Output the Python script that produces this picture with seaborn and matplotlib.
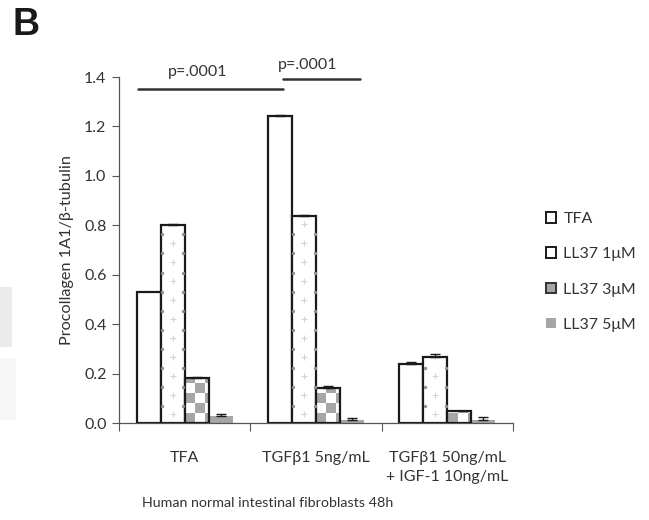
import matplotlib
matplotlib.use("Agg")
import matplotlib.pyplot as plt
import numpy as np
import pandas as pd
import seaborn as sns
from matplotlib.patches import Rectangle, Patch

sns.set_theme(style="white")
plt.rcParams["font.family"] = ["Lato", "DejaVu Sans"]

groups = ["TFA", "TGFβ1 5ng/mL", "TGFβ1 50ng/mL\n+ IGF-1 10ng/mL"]
treatments = ["TFA", "LL37 1μM", "LL37 3μM", "LL37 5μM"]
tfa = [0.53, 1.244, 0.237]
ll37_1 = [0.801, 0.836, 0.267]
ll37_3 = [0.183, 0.143, 0.049]
ll37_5 = [0.028, 0.012, 0.012]
err_tfa = [0.0, 0.004, 0.011]
err_1 = [0.004, 0.004, 0.011]
err_3 = [0.005, 0.005, 0.0]
err_5 = [0.007, 0.007, 0.011]

series = [tfa, ll37_1, ll37_3, ll37_5]
errors = [err_tfa, err_1, err_3, err_5]

df = pd.DataFrame({
    "group": groups * 4,
    "treatment": [t for t in treatments for _ in groups],
    "value": [v for s in series for v in s],
})

FS = 11.5
TXT = "#333333"

fig = plt.figure(figsize=(6.49, 5.2), dpi=100)
ax = fig.add_axes([0.1834, 0.1865, 0.607, 0.6654])

sns.barplot(data=df, x="group", y="value", hue="treatment", order=groups,
            hue_order=treatments, palette=["white", "white", "white", "#a6a6a6"],
            width=0.73, errorbar=None, ax=ax, legend=False, saturation=1)

bar_conts = list(ax.containers)
for i, cont in enumerate(bar_conts):
    for bar, e in zip(cont, errors[i]):
        if i < 3:
            bar.set_edgecolor("#1a1a1a")
            bar.set_linewidth(1.6)
        else:
            bar.set_edgecolor("none")
        x = bar.get_x() + bar.get_width() / 2
        h = bar.get_height()
        w = bar.get_width()
        if e > 0:
            ax.errorbar(x, h, yerr=[[0], [e]], fmt="none", ecolor="#1a1a1a",
                        elinewidth=1, capsize=3.6, capthick=1, zorder=5)
        if i == 1:
            # faint dotted fill pattern
            ys = np.arange(0.035, h, 0.077)
            ax.scatter(np.full(len(ys), x), ys, marker="+", s=16, color="#d4d4d4",
                       linewidths=0.8, zorder=3, clip_path=bar)
            ys2 = np.arange(0.07, h, 0.077)
            for xx in (bar.get_x() + 0.06 * w, bar.get_x() + 0.94 * w):
                ax.scatter(np.full(len(ys2), xx), ys2, marker="o", s=2, color="#909090",
                           zorder=3, clip_path=bar)
        if i == 2:
            # checkerboard fill
            cw = w / 2.35
            chh = 0.04
            nrow = int(np.ceil(h / chh))
            for r in range(nrow):
                for c in range(3):
                    if (r + c) % 2 == 0:
                        sq = Rectangle((bar.get_x() + c * cw, r * chh), cw, chh,
                                       facecolor="#a6a6a6", edgecolor="none", zorder=2)
                        ax.add_patch(sq)
                        sq.set_clip_path(bar)
            bar.set_zorder(3)
            bar.set_facecolor("none")
            ax.add_patch(Rectangle((bar.get_x(), 0), w, h, facecolor="white",
                                   edgecolor="none", zorder=1))

ax.set_ylim(0, 1.4)
ax.set_xlim(-0.5, 2.5)
ax.set_yticks(np.arange(0, 1.41, 0.2))
ax.set_yticklabels([f"{v:.1f}" for v in np.arange(0, 1.41, 0.2)])
ax.set_xticks([0, 1, 2])
ax.set_xticklabels(groups)
ax.set_xticks([-0.5, 0.5, 1.5, 2.5], minor=True)
ax.tick_params(axis="x", which="major", length=0, pad=20, labelsize=FS, colors=TXT)
ax.tick_params(axis="x", which="minor", length=6, width=0.8, color="#555555", direction="out", bottom=True)
ax.tick_params(axis="y", length=5, width=0.8, color="#555555", direction="out", left=True,
               labelsize=FS, labelcolor=TXT, pad=4)
for lbl in ax.get_xticklabels():
    lbl.set_linespacing(1.45)
ax.set_xlabel("")
ax.set_ylabel("Procollagen 1A1/β-tubulin", fontsize=11.7, color=TXT, labelpad=7)
for s in ["top", "right"]:
    ax.spines[s].set_visible(False)
for s in ["left", "bottom"]:
    ax.spines[s].set_color("#555555")
    ax.spines[s].set_linewidth(0.9)

# significance bars
ax.plot([-0.355, 0.75], [1.352, 1.352], color=TXT, lw=1.8, clip_on=False)
ax.plot([0.75, 1.335], [1.393, 1.393], color=TXT, lw=1.8, clip_on=False)
ax.text(0.1, 1.42, "p=.0001", ha="center", va="center", fontsize=FS, color=TXT)
ax.text(0.94, 1.45, "p=.0001", ha="center", va="center", fontsize=FS, color=TXT)

handles = [
    Patch(facecolor="white", edgecolor="#1a1a1a", linewidth=1.4),
    Patch(facecolor="white", edgecolor="#1a1a1a", linewidth=1.4),
    Patch(facecolor="#a6a6a6", edgecolor="#333333", linewidth=1.4),
    Patch(facecolor="#a6a6a6", edgecolor="none"),
]
fig.legend(handles, treatments, loc="center left", bbox_to_anchor=(0.841, 0.477),
           frameon=False, fontsize=FS, handlelength=0.65, handleheight=0.65,
           handletextpad=0.45, labelspacing=1.32, borderpad=0, borderaxespad=0,
           labelcolor=TXT)

fig.text(0.413, 0.032, "Human normal intestinal fibroblasts 48h", ha="center",
         va="center", fontsize=10.3, color=TXT)
fig.text(0.02, 0.952, "B", ha="left", va="center", fontsize=27, fontweight="bold",
         family=["Liberation Sans", "DejaVu Sans"], color="#1a1a1a")

# faint fragments of neighbouring panel at left edge
fig.patches.append(Rectangle((0, 1 - 347 / 520), 12 / 649, 60 / 520, transform=fig.transFigure,
                             facecolor="#ebebeb", edgecolor="none"))
fig.patches.append(Rectangle((0, 1 - 420 / 520), 16 / 649, 62 / 520, transform=fig.transFigure,
                             facecolor="#f7f7f7", edgecolor="none"))

fig.savefig("out.png", dpi=100)
